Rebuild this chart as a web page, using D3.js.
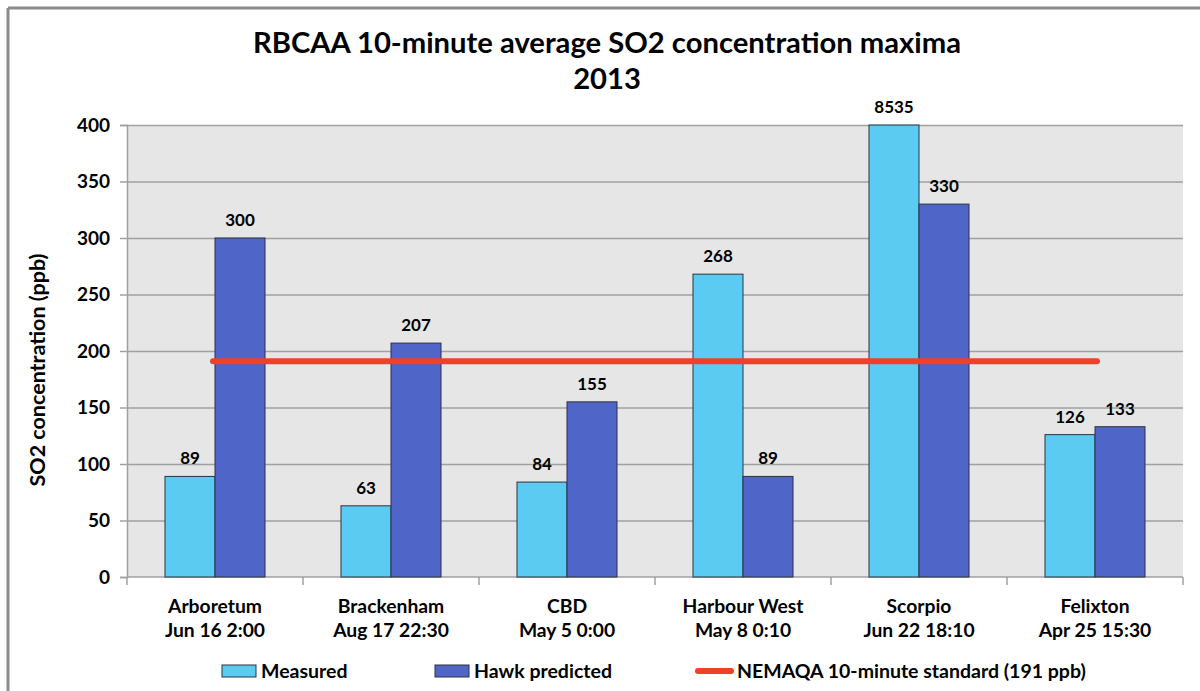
<!DOCTYPE html>
<html>
<head>
<meta charset="utf-8">
<script src="https://cdn.jsdelivr.net/npm/d3@7"></script>
<style>
  html, body { margin: 0; padding: 0; background: #fff; }
  svg { display: block; font-family: Lato, "Open Sans", sans-serif; font-weight: bold; }
</style>
</head>
<body>
<svg id="chart" width="1200" height="691"></svg>
<script>
// Monitoring stations and the time each maximum occurred
const stations = ["Arboretum", "Brackenham", "CBD", "Harbour West", "Scorpio", "Felixton"];
const times = ["Jun 16 2:00", "Aug 17 22:30", "May 5 0:00", "May 8 0:10", "Jun 22 18:10", "Apr 25 15:30"];

// 10-minute average SO2 maxima (ppb)
const measured = [89, 63, 84, 268, 8535, 126];
const hawkPredicted = [300, 207, 155, 89, 330, 133];

// NEMAQA 10-minute standard (ppb)
const standard = 191;

const yTicks = [0, 50, 100, 150, 200, 250, 300, 350, 400];
const seriesNames = ["Measured", "Hawk predicted"];
const seriesColors = ["#5ccbf2", "#4f65c8"];

const svg = d3.select("#chart");
const W = 1200, H = 691;
const plot = { left: 127, right: 1183, top: 125, bottom: 577 };

// frame along the top and left edges
svg.append("line").attr("x1", 8).attr("x2", W).attr("y1", 8).attr("y2", 8)
  .attr("stroke", "#8c8c8c").attr("stroke-width", 3);
svg.append("line").attr("x1", 8).attr("x2", 8).attr("y1", 8).attr("y2", H)
  .attr("stroke", "#8c8c8c").attr("stroke-width", 3);

// title
svg.append("text").attr("x", 607).attr("y", 53).attr("text-anchor", "middle")
  .attr("font-size", 29.2).attr("fill", "#000")
  .text("RBCAA 10-minute average SO2 concentration maxima");
svg.append("text").attr("x", 607).attr("y", 89).attr("text-anchor", "middle")
  .attr("font-size", 29.2).attr("fill", "#000")
  .text("2013");

const x = d3.scaleBand().domain(stations).range([plot.left, plot.right]).paddingInner(0).paddingOuter(0);
const y = d3.scaleLinear().domain([0, 400]).range([plot.bottom, plot.top]).clamp(true);
const barW = 50;

// plot background
svg.append("rect").attr("x", plot.left).attr("y", plot.top)
  .attr("width", plot.right - plot.left).attr("height", plot.bottom - plot.top)
  .attr("fill", "#e6e6e6");

// horizontal gridlines
svg.append("g").selectAll("line").data(yTicks.filter(d => d > 0)).join("line")
  .attr("x1", plot.left).attr("x2", plot.right)
  .attr("y1", d => y(d) + 0.5).attr("y2", d => y(d) + 0.5)
  .attr("stroke", "#a0a0a0").attr("stroke-width", 1.5);

// y axis
const yAxis = svg.append("g").attr("transform", `translate(${plot.left},0)`)
  .call(d3.axisLeft(y).tickValues(yTicks).tickSize(7).tickPadding(10));
yAxis.select(".domain").attr("stroke", "#a0a0a0").attr("stroke-width", 1.5);
yAxis.selectAll(".tick line").attr("stroke", "#a0a0a0").attr("stroke-width", 1.5);
yAxis.selectAll(".tick text").attr("font-size", 19).attr("font-family", "Lato, sans-serif")
  .attr("font-weight", "bold").attr("fill", "#000");

// x axis with category boundaries as ticks
const xAxisG = svg.append("g").attr("transform", `translate(0,${plot.bottom})`);
xAxisG.append("line").attr("x1", plot.left).attr("x2", plot.right).attr("y1", 0).attr("y2", 0)
  .attr("stroke", "#a0a0a0").attr("stroke-width", 1.5);
const bounds = stations.map(s => x(s)).concat([x(stations[stations.length - 1]) + x.bandwidth()]);
xAxisG.selectAll("line.tick").data(bounds).join("line").attr("class", "tick")
  .attr("x1", d => d).attr("x2", d => d).attr("y1", 0).attr("y2", 8)
  .attr("stroke", "#a0a0a0").attr("stroke-width", 1.5);

const catLabels = svg.append("g").selectAll("text").data(stations).join("text")
  .attr("x", d => x(d) + x.bandwidth() / 2)
  .attr("text-anchor", "middle").attr("font-size", 19.3).attr("fill", "#000");
catLabels.append("tspan").attr("x", d => x(d) + x.bandwidth() / 2).attr("y", 613).text(d => d);
catLabels.append("tspan").attr("x", d => x(d) + x.bandwidth() / 2).attr("y", 637).text((d, i) => times[i]);

// y axis title
svg.append("text").attr("transform", `translate(45,370) rotate(-90)`)
  .attr("text-anchor", "middle").attr("font-size", 21.5).attr("fill", "#000")
  .text("SO2 concentration (ppb)");

// bars
const rows = stations.map((s, i) => ({ station: s, values: [measured[i], hawkPredicted[i]] }));
const groups = svg.append("g").selectAll("g").data(rows).join("g")
  .attr("transform", d => `translate(${x(d.station) + x.bandwidth() / 2 - barW},0)`);
groups.selectAll("rect").data(d => d.values).join("rect")
  .attr("x", (d, j) => j * barW)
  .attr("y", d => y(d))
  .attr("width", barW)
  .attr("height", d => plot.bottom - y(d))
  .attr("fill", (d, j) => seriesColors[j])
  .attr("stroke", "#2a3340").attr("stroke-width", 1);
groups.selectAll("text").data(d => d.values).join("text")
  .attr("x", (d, j) => j * barW + barW / 2)
  .attr("y", d => y(d) - 12)
  .attr("text-anchor", "middle").attr("font-size", 17).attr("fill", "#000")
  .text(d => d);

// standard line spanning first to last category centre
svg.append("line")
  .attr("x1", x(stations[0]) + x.bandwidth() / 2 - 2)
  .attr("x2", x(stations[stations.length - 1]) + x.bandwidth() / 2 + 2)
  .attr("y1", y(standard)).attr("y2", y(standard))
  .attr("stroke", "#ee4128").attr("stroke-width", 6).attr("stroke-linecap", "round");

// legend
const legY = 671;
const leg = svg.append("g");
[[222, 0], [435, 1]].forEach(([lx, j]) => {
  leg.append("rect").attr("x", lx).attr("y", legY - 6).attr("width", 34).attr("height", 12)
    .attr("fill", seriesColors[j]).attr("stroke", "#2a3340").attr("stroke-width", 1);
  leg.append("text").attr("x", lx + 39).attr("y", legY + 7).attr("font-size", 19.5).attr("fill", "#000")
    .text(seriesNames[j]);
});
leg.append("line").attr("x1", 698).attr("x2", 731).attr("y1", legY).attr("y2", legY)
  .attr("stroke", "#ee4128").attr("stroke-width", 6).attr("stroke-linecap", "round");
leg.append("text").attr("x", 737).attr("y", legY + 7).attr("font-size", 19.5).attr("fill", "#000")
  .text(`NEMAQA 10-minute standard (${standard} ppb)`);
</script>
</body>
</html>
